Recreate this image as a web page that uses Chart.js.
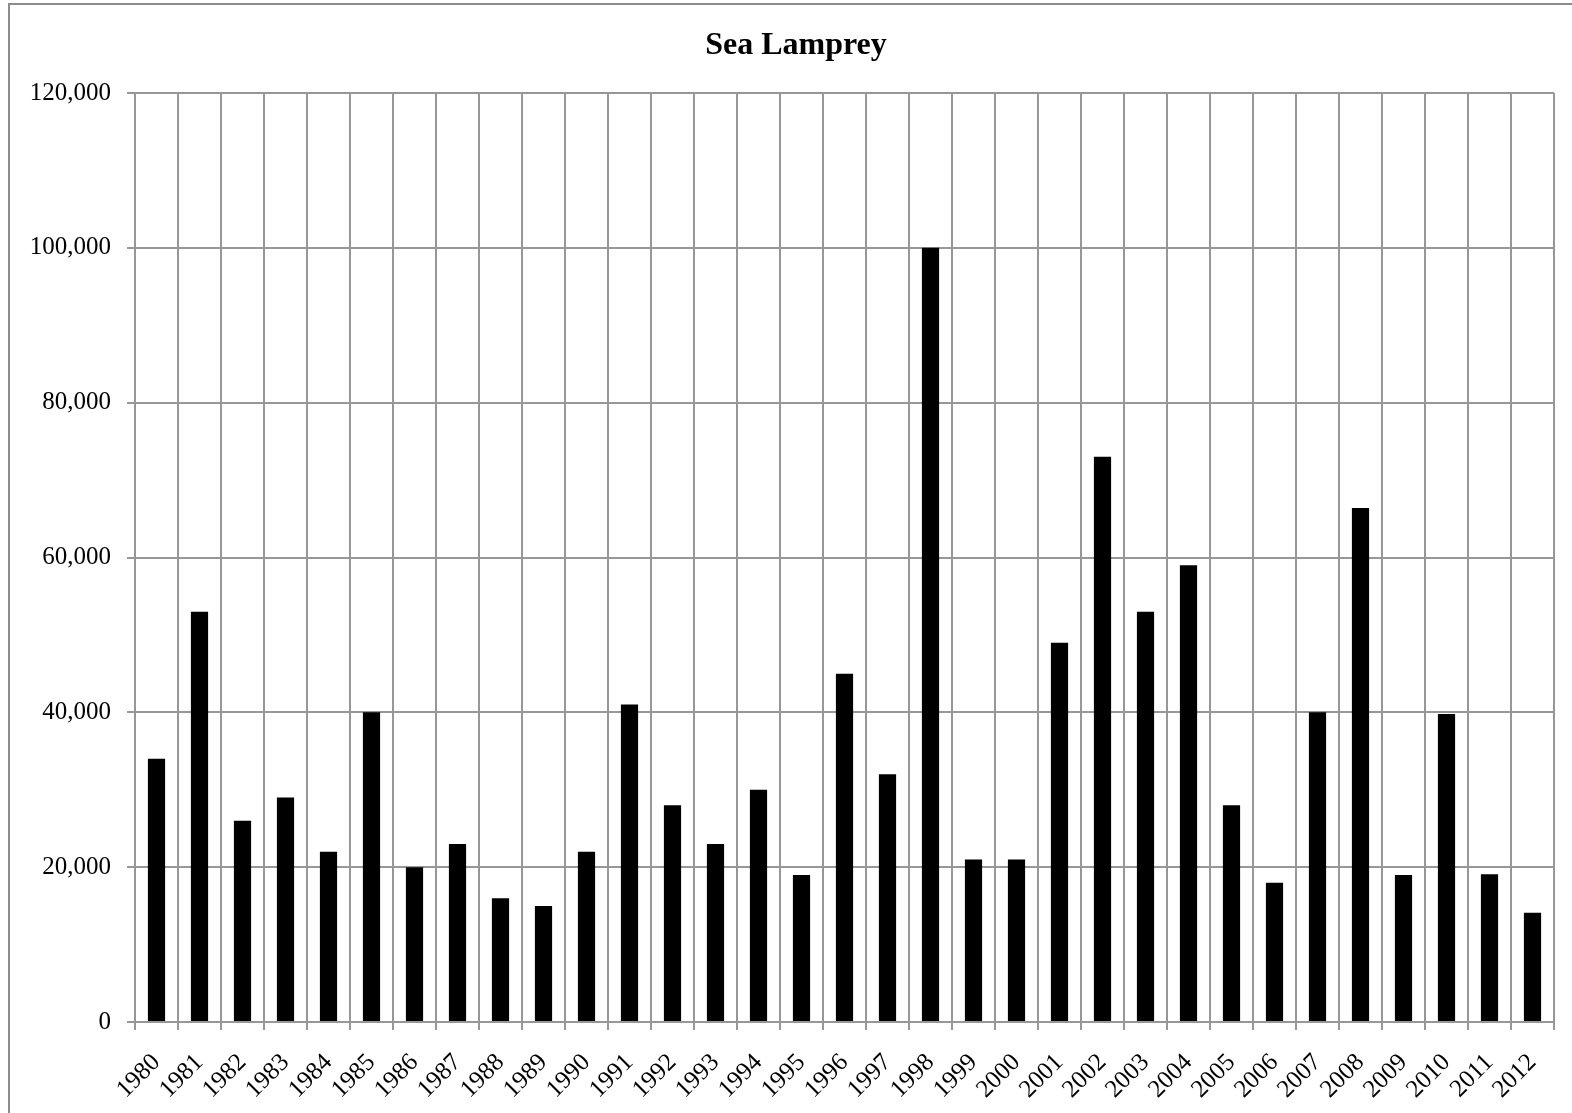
<!DOCTYPE html>
<html>
<head>
<meta charset="utf-8">
<script src="https://cdn.jsdelivr.net/npm/chart.js@4"></script>
<style>
html,body{margin:0;padding:0;background:#fff;}
#wrap{position:relative;width:1572px;height:1113px;}
</style>
</head>
<body>
<div id="wrap"><canvas id="c" width="1572" height="1113"></canvas></div>
<script>
const titleText = "Sea Lamprey";
const years = ["1980","1981","1982","1983","1984","1985","1986","1987","1988","1989","1990","1991","1992","1993","1994","1995","1996","1997","1998","1999","2000","2001","2002","2003","2004","2005","2006","2007","2008","2009","2010","2011","2012"];
const counts = [34000,53000,26000,29000,22000,40000,20000,23000,16000,15000,22000,41000,28000,23000,30000,19000,45000,32000,100000,21000,21000,49000,73000,53000,59000,28000,18000,40000,66400,19000,39800,19100,14100];
const yMin = 0, yMax = 120000, yStep = 20000;

const frame = {
  id: 'frame',
  afterLayout(chart) {
    if (chart.titleBlock) { chart.titleBlock.left = 38; }
  },
  beforeDraw(chart) {
    const ctx = chart.ctx;
    ctx.save();
    ctx.fillStyle = '#fff';
    ctx.fillRect(0, 0, chart.width, chart.height);
    ctx.strokeStyle = '#8c8c8c';
    ctx.lineWidth = 2;
    ctx.strokeRect(9, 4, 2000, 2000);
    ctx.restore();
  }
};

const fontFam = "'Liberation Serif', 'Times New Roman', serif";
const gridCol = '#979797';

new Chart(document.getElementById('c'), {
  type: 'bar',
  data: {
    labels: years,
    datasets: [{
      data: counts,
      backgroundColor: '#000',
      borderWidth: 0,
      barPercentage: 0.4,
      categoryPercentage: 1.0
    }]
  },
  options: {
    responsive: false,
    animation: false,
    devicePixelRatio: 1,
    layout: { padding: { left: 0, right: 18, top: 0, bottom: 0 } },
    plugins: {
      legend: { display: false },
      tooltip: { enabled: false },
      title: {
        display: true,
        text: titleText,
        color: '#000',
        font: { family: fontFam, size: 32, weight: 'bold', lineHeight: 1.2 },
        padding: { top: 27, bottom: 27.6 }
      }
    },
    scales: {
      x: {
        offset: true,
        grid: { offset: true, color: gridCol, lineWidth: 2, tickLength: 8, drawTicks: true },
        border: { color: gridCol, width: 2 },
        ticks: {
          color: '#000',
          font: { family: fontFam, size: 25 },
          maxRotation: 45, minRotation: 45,
          autoSkip: false,
          padding: 18
        },
        afterFit(scale) { scale.height = 91; }
      },
      y: {
        min: yMin, max: yMax,
        grid: { color: gridCol, lineWidth: 2, tickLength: 8 },
        border: { color: gridCol, width: 2 },
        ticks: {
          stepSize: yStep,
          color: '#000',
          font: { family: fontFam, size: 25 },
          padding: 16,
          callback: v => v.toLocaleString('en-US')
        },
        afterFit(scale) { scale.width = 135; }
      }
    }
  },
  plugins: [frame]
});
</script>
</body>
</html>
